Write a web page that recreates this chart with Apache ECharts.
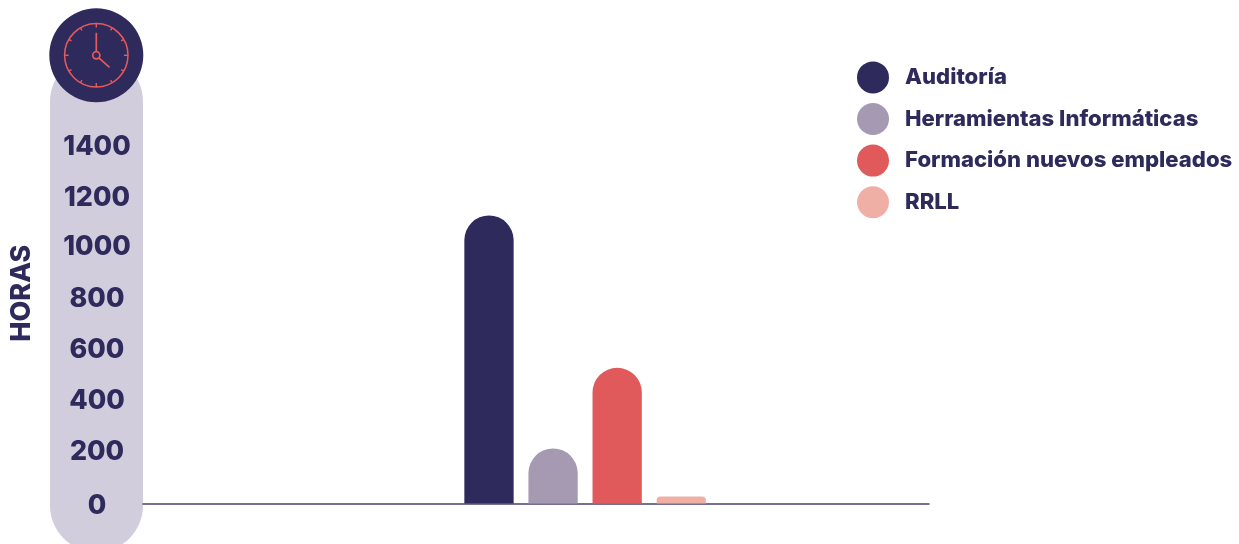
<!DOCTYPE html>
<html><head><meta charset="utf-8">
<style>html,body{margin:0;padding:0;background:#fff}#c{width:1239px;height:544px}</style>
<script src="https://cdn.jsdelivr.net/npm/echarts@6/dist/echarts.min.js"></script>
</head><body><div id="c"></div>
<script>
const categories = ['', '', '', '', 'Horas', '', '', ''];
const periodIndex = 4;
const seriesNames = ['Auditoría', 'Herramientas Informáticas', 'Formación nuevos empleados', 'RRLL'];
const seriesValues = [1125, 215, 530, 27];
const seriesColors = ['#2e2a5c', '#a69ab3', '#e05a5b', '#f0afa5'];
const cornerRadii = [25, 25, 25, 4];
const ink = '#2e2a5c', pill = '#d2cddc', red = '#e8595a';
const font = 'Inter';

const cx = 96.3, cy = 55.3;
const clock = [
  {type:'rect', shape:{x:50,y:55,width:93,height:497,r:46.5}, style:{fill:pill}, z:-10},
  {type:'circle', shape:{cx,cy,r:47}, style:{fill:ink}, z:1},
  {type:'circle', shape:{cx,cy,r:31.7}, style:{fill:'none',stroke:red,lineWidth:1.5}, z:2},
  {type:'circle', shape:{cx,cy,r:3.6}, style:{fill:'none',stroke:red,lineWidth:1.7}, z:2},
  {type:'line', shape:{x1:cx,y1:cy-3.6,x2:cx,y2:cy-22.5}, style:{stroke:red,lineWidth:1.7}, z:2},
  {type:'line', shape:{x1:cx+2.6,y1:cy+2.6,x2:cx+13.2,y2:cy+12}, style:{stroke:red,lineWidth:1.7}, z:2}
];
for (let i=0;i<12;i++){
  const a=i*Math.PI/6, L=(i%3===0)?4:3;
  clock.push({type:'line', shape:{x1:cx+Math.sin(a)*31.7,y1:cy-Math.cos(a)*31.7,x2:cx+Math.sin(a)*(31.7-L),y2:cy-Math.cos(a)*(31.7-L)}, style:{stroke:red,lineWidth:1.4}, z:2});
}
const tickFont = {color:ink,fontFamily:font,fontWeight:800,fontSize:26.8};

const chart = echarts.init(document.getElementById('c'), null, {renderer:'canvas'});
chart.setOption({
  animation:false,
  backgroundColor:'#fff',
  textStyle:{fontFamily:font},
  graphic:clock,
  legend:{
    left:852, top:56.4, orient:'vertical', itemWidth:32, itemHeight:32, itemGap:9.6,
    icon:'circle', selectedMode:false,
    data:seriesNames,
    textStyle:{color:ink,fontFamily:font,fontWeight:800,fontSize:22.1,padding:[3,0,0,11]}
  },
  grid:{left:141,top:145,width:788,height:358.5,containLabel:false},
  xAxis:{type:'category',data:categories,axisTick:{show:false},axisLabel:{show:false},
    axisLine:{lineStyle:{color:'#45416f',width:1.5}}},
  yAxis:{type:'value',min:0,max:1400,interval:200,splitLine:{show:false},axisLine:{show:false},axisTick:{show:false},
    name:'HORAS',nameLocation:'middle',nameGap:108,nameRotate:90,
    nameTextStyle:{color:ink,fontFamily:font,fontWeight:800,fontSize:27,padding:[0,0,0,62]},
    axisLabel:{...tickFont,margin:0,align:'center',
      formatter:v=>v===0?`{zero|${v}}`:(v>=1200?`{low|${v}}`:`{mid|${v}}`),
      rich:{zero:{...tickFont,padding:[5,0,0,0]},low:{...tickFont,padding:[3,0,0,0]},mid:{...tickFont}},
      padding:[0,92,0,0]}},
  series:seriesNames.map((n,i)=>({
    name:n,type:'bar',barWidth:49.3,barGap:'30%',
    itemStyle:{color:seriesColors[i],borderRadius:[cornerRadii[i],cornerRadii[i],0,0]},
    data:categories.map((c,k)=>k===periodIndex?seriesValues[i]:null)
  }))
});
</script></body></html>
